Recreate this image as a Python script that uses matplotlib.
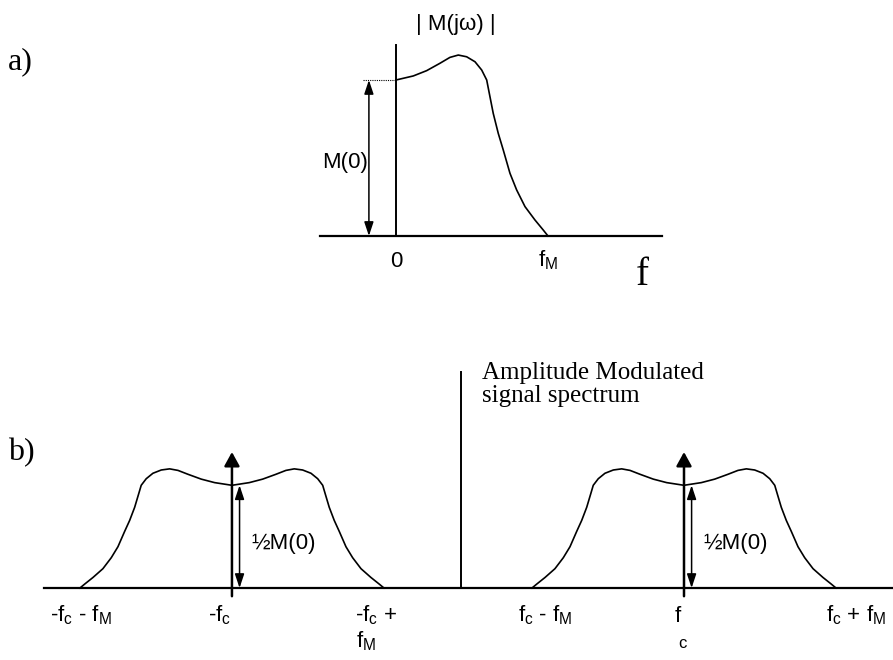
import numpy as np
import matplotlib
matplotlib.use("Agg")
import matplotlib.pyplot as plt

plt.rcParams["font.family"] = ["Liberation Sans", "DejaVu Sans"]
plt.rcParams["mathtext.default"] = "regular"

# baseband spectrum |M(jw)|, f in units of fM, magnitude in units of M(0)
f_base = [0.0, 0.114, 0.202, 0.289, 0.355, 0.410, 0.465, 0.520, 0.564, 0.597,
          0.614, 0.640, 0.673, 0.706, 0.750, 0.794, 0.849, 0.914, 0.969, 1.0]
m_base = [1.0, 1.026, 1.060, 1.107, 1.145, 1.160, 1.149, 1.117, 1.064, 1.0,
          0.915, 0.786, 0.658, 0.551, 0.402, 0.295, 0.188, 0.103, 0.038, 0.0]
fc = 1.487          # carrier, in units of fM
fM = 1.0
carrier_height = 0.662
m0 = 1.0

serif = ["Liberation Serif", "DejaVu Serif"]
fs = 16
fig = plt.figure(figsize=(8.93, 6.60), dpi=100)

# ---------------- a) baseband ----------------
ax1 = fig.add_axes([0, 0.5, 1, 0.5])
ax1.set_xlim(-2.605, 3.270)
ax1.set_ylim(-0.603, 1.513)
ax1.axis("off")
ax1.plot([-0.5, 1.75], [0, 0], color="black", lw=1.6)
ax1.plot([0, 0], [0, 1.224], color="black", lw=1.4)
ax1.plot(f_base, m_base, color="black", lw=1.2)
ax1.plot([-0.217, 0], [m0, m0], color="black", lw=0.8, ls=(0, (1, 1)))
ax1.annotate("", xy=(-0.178, m0), xytext=(-0.178, 0),
             arrowprops=dict(arrowstyle="<|-|>,head_length=0.6,head_width=0.2",
                             mutation_scale=14, color="black", lw=1.1,
                             shrinkA=0, shrinkB=0))
ax1.text(-0.336, 0.468, "M(0)", ha="center", va="center", fontsize=fs)
ax1.text(0.395, 1.353, "| M(jω) |", ha="center", va="center", fontsize=fs)
ax1.text(0, -0.197, "0", ha="center", va="baseline", fontsize=fs)
ax1.text(fM, -0.197, "$f_M$", ha="center", va="baseline", fontsize=fs)
ax1.text(1.62, -0.314, "f", ha="center", va="baseline", fontsize=28, family=serif)
fig.text(8 / 893, 1 - 69 / 660, "a)", ha="left", va="baseline", fontsize=23,
         family=serif)

# ---------------- b) AM spectrum ----------------
ax2 = fig.add_axes([0, 0, 1, 0.5])
ax2.set_xlim(-3.013, 2.862)
ax2.set_ylim(-0.3505, 1.256)
ax2.axis("off")
ax2.plot([-fc - fM - 0.237, 2.862], [0, 0], color="black", lw=1.6)
ax2.plot([0.02, 0.02], [0, 1.052], color="black", lw=1.4)

f_side = np.array(f_base)
m_side = 0.5 * np.array(m_base)
for c in (-fc, fc):
    xs = np.concatenate([c - f_side[::-1], c + f_side[1:]])
    ys = np.concatenate([m_side[::-1], m_side[1:]])
    ax2.plot(xs, ys, color="black", lw=1.2)
    ax2.annotate("", xy=(c, carrier_height), xytext=(c, -0.04),
                 arrowprops=dict(arrowstyle="-|>,head_length=0.6,head_width=0.33",
                                 mutation_scale=14, color="black", lw=1.8,
                                 shrinkA=0, shrinkB=0))
    ax2.annotate("", xy=(c + 0.05, 0.5 * m0), xytext=(c + 0.05, 0),
                 arrowprops=dict(arrowstyle="<|-|>,head_length=0.6,head_width=0.2",
                                 mutation_scale=14, color="black", lw=1.1,
                                 shrinkA=0, shrinkB=0))
    ax2.text(c + 0.13, 0.215, "½M(0)", ha="left", va="center", fontsize=fs)

ly, ly2 = -0.164, -0.29
ax2.text(-fc - fM + 0.01, ly, "-$f_c$ - $f_M$", ha="center", va="baseline", fontsize=fs)
ax2.text(-fc - 0.08, ly, "-$f_c$", ha="center", va="baseline", fontsize=fs)
ax2.text(-fc + fM - 0.05, ly, "-$f_c$ +", ha="center", va="baseline", fontsize=fs)
ax2.text(-fc + fM - 0.12, ly2, "$f_M$", ha="center", va="baseline", fontsize=fs)
ax2.text(fc - fM + 0.09, ly, "$f_c$ - $f_M$", ha="center", va="baseline", fontsize=fs)
ax2.text(fc - 0.04, ly, "f", ha="center", va="baseline", fontsize=fs)
ax2.text(fc - 0.01, ly2, "c", ha="center", va="baseline", fontsize=12)
ax2.text(fc + fM + 0.13, ly, "$f_c$ + $f_M$", ha="center", va="baseline", fontsize=fs)

ax2.text(0.158, 1.016, "Amplitude Modulated", ha="left", va="baseline",
         fontsize=18, family=serif)
ax2.text(0.158, 0.907, "signal spectrum", ha="left", va="baseline",
         fontsize=18, family=serif)
fig.text(8 / 893, 1 - 460 / 660, "b)", ha="left", va="baseline", fontsize=23,
         family=serif)

fig.savefig("out.png", dpi=100)
